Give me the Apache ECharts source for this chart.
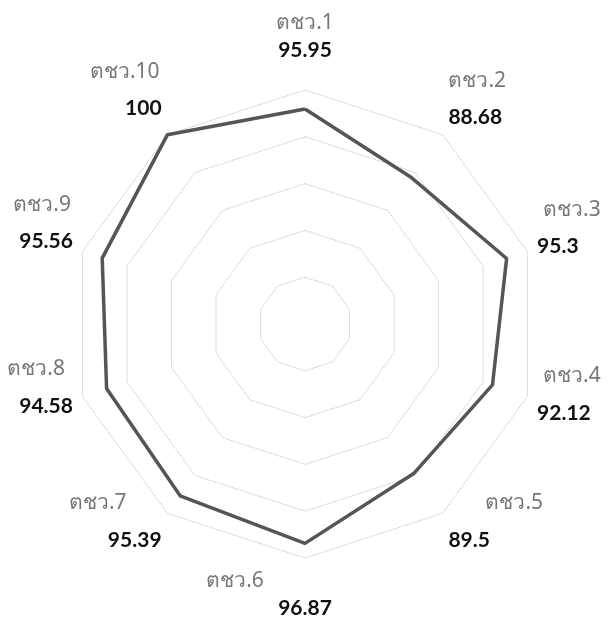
<!DOCTYPE html>
<html>
<head>
<meta charset="utf-8">
<script src="https://cdn.jsdelivr.net/npm/echarts@6/dist/echarts.min.js"></script>
<style>
  html, body { margin: 0; padding: 0; background: #fff; }
  #chart { width: 611px; height: 619px; }
</style>
</head>
<body>
<div id="chart"></div>
<script>
// indicator names and scores, clockwise from the top
const names = ['ตชว.1', 'ตชว.2', 'ตชว.3', 'ตชว.4', 'ตชว.5', 'ตชว.6', 'ตชว.7', 'ตชว.8', 'ตชว.9', 'ตชว.10']
const scores = [95.95, 88.68, 95.3, 92.12, 89.5, 96.87, 95.39, 94.58, 95.56, 100]
const axisMin = 50
const axisMax = 100

// label tweaks per indicator (same order as names): empty space below the text, and name offset vs value
const padBelow = [16, 55, 41, 9, 0, 0, 0, 23, 51, 73]
const nameShift = [0, 0, 6, 6, 37, -70, -35, -8, -2, -2]
const nameAlign = ['center', 'left', 'left', 'left', 'left', 'center', 'right', 'right', 'right', 'right']

// echarts lays indicators out counter-clockwise, so keep the first one on top and reverse the rest
const order = [0]
for (let i = names.length - 1; i > 0; i--) order.push(i)

const indicator = order.map(i => ({ name: names[i], min: axisMin, max: axisMax }))
const values = order.map(i => scores[i])

const rich = {}
names.forEach((name, i) => {
  const s = nameShift[i]
  const np = [0, 0, 0, 0]
  const vp = [0, 0, 0, 0]
  if (nameAlign[i] === 'center') {
    if (s < 0) np[1] = -2 * s
    else np[3] = 2 * s
  } else if (nameAlign[i] === 'left') {
    if (s > 0) np[3] = s
    else vp[3] = -s
  } else {
    if (s < 0) np[1] = -s
    else vp[1] = s
  }
  const lh = (i === 0 || i === 5) ? 27 : 37
  rich['n' + i] = { color: '#777', fontSize: 21, fontFamily: 'Noto Sans, sans-serif', lineHeight: lh, padding: np }
  rich['v' + i] = { color: '#111', fontSize: 21, fontWeight: 'bold', fontFamily: 'Lato, Noto Sans, sans-serif', lineHeight: lh, padding: vp }
  rich['p' + i] = { fontSize: 1, lineHeight: padBelow[i] }
})

const chart = echarts.init(document.getElementById('chart'))
chart.setOption({
  backgroundColor: '#fff',
  radar: {
    center: [305, 324],
    radius: 234,
    startAngle: 90,
    splitNumber: 5,
    shape: 'polygon',
    indicator,
    axisName: {
      formatter: (name) => {
        const i = names.indexOf(name)
        let txt = '{n' + i + '|' + name + '}\n{v' + i + '|' + scores[i] + '}'
        if (padBelow[i] > 0) txt += '\n{p' + i + '| }'
        return txt
      },
      rich
    },
    nameGap: 10,
    axisLine: { show: false },
    axisTick: { show: false },
    axisLabel: { show: false },
    splitArea: { show: false },
    splitLine: {
      lineStyle: { color: '#bbb', width: 1, type: 'dotted' }
    }
  },
  series: [{
    type: 'radar',
    symbol: 'none',
    lineStyle: { color: '#555', width: 3.5 },
    data: [{ value: values }]
  }]
})
</script>
</body>
</html>
